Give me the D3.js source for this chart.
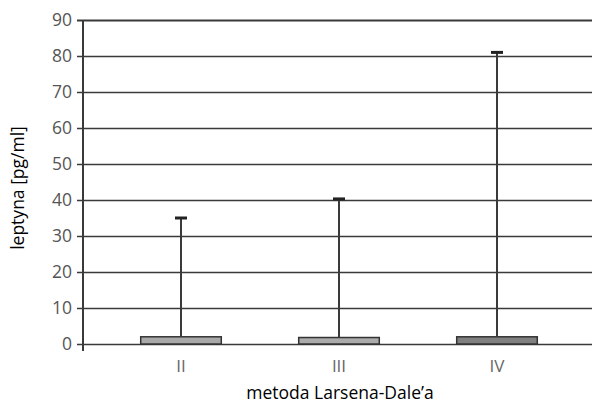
<!DOCTYPE html>
<html><head><meta charset="utf-8">
<script src="https://cdn.jsdelivr.net/npm/d3@7"></script>
<style>body{margin:0;background:#fff}svg{display:block}text{font-family:"Open Sans",sans-serif}</style>
</head><body><svg id="c" width="594" height="403"></svg>
<script>
const categories = ["II", "III", "IV"];
const values = [2.0, 1.8, 2.0];
const errorTops = [35, 40.3, 81];
const barColors = ["#a9a9a9", "#acacac", "#808080"];
const yTicks = [0, 10, 20, 30, 40, 50, 60, 70, 80, 90];

const svg = d3.select("#c");
const y = d3.scaleLinear().domain([0, 90]).range([344, 20]);
const x = d3.scaleBand().domain(categories).range([102, 576]).paddingInner(0.49).paddingOuter(0.245);
const xLeft = 83, xRight = 592;

// gridlines
svg.append("g").selectAll("line").data(yTicks).join("line")
  .attr("x1", xLeft - 6).attr("x2", xRight)
  .attr("y1", d => Math.round(y(d)) + 0.5).attr("y2", d => Math.round(y(d)) + 0.5)
  .attr("stroke", "#3a3a3a").attr("stroke-width", d => d === 90 ? 2 : 1.5);

// y tick labels
svg.append("g").selectAll("text").data(yTicks).join("text")
  .attr("x", 72).attr("y", d => y(d)).attr("dy", "0.36em")
  .attr("text-anchor", "end").attr("font-size", 17.5).attr("fill", "#555")
  .text(d => d);

// y axis line
svg.append("line").attr("x1", xLeft).attr("x2", xLeft).attr("y1", y(90)).attr("y2", 351)
  .attr("stroke", "#3a3a3a").attr("stroke-width", 2);

// bars
svg.append("g").selectAll("rect").data(categories).join("rect")
  .attr("x", d => x(d)).attr("width", x.bandwidth())
  .attr("y", (d, i) => y(values[i])).attr("height", (d, i) => y(0) - y(values[i]))
  .attr("fill", (d, i) => barColors[i]).attr("stroke", "#333").attr("stroke-width", 1.5);

// error bars
const eb = svg.append("g");
categories.forEach((c, i) => {
  const cx = x(c) + x.bandwidth() / 2;
  eb.append("line").attr("x1", cx).attr("x2", cx).attr("y1", y(values[i])).attr("y2", y(errorTops[i]))
    .attr("stroke", "#3a3a3a").attr("stroke-width", 2);
  eb.append("line").attr("x1", cx - 6).attr("x2", cx + 6).attr("y1", y(errorTops[i])).attr("y2", y(errorTops[i]))
    .attr("stroke", "#222").attr("stroke-width", 3);
});

// x labels
svg.append("g").selectAll("text").data(categories).join("text")
  .attr("x", d => x(d) + x.bandwidth() / 2).attr("y", 372)
  .attr("text-anchor", "middle").attr("font-size", 17).attr("fill", "#666")
  .text(d => d);

// axis titles
svg.append("text").attr("x", 340).attr("y", 399).attr("text-anchor", "middle")
  .attr("font-size", 17.5).attr("fill", "#000").text("metoda Larsena-Dale\u2019a");
svg.append("text").attr("transform", "translate(24,188) rotate(-90)").attr("text-anchor", "middle")
  .attr("font-size", 17.5).attr("fill", "#000").text("leptyna [pg/ml]");
</script></body></html>
